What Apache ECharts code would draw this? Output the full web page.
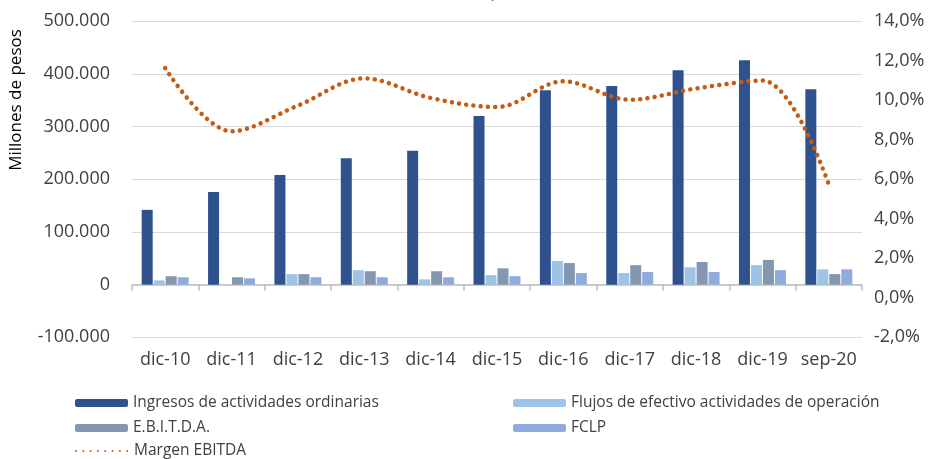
<!DOCTYPE html>
<html>
<head>
<meta charset="utf-8">
<script src="https://cdn.jsdelivr.net/npm/echarts@6/dist/echarts.min.js"></script>
<style>
html,body{margin:0;padding:0;background:#fff;}
#c{width:937px;height:459px;}
</style>
</head>
<body>
<div id="c"></div>
<script>
const categories = ['dic-10','dic-11','dic-12','dic-13','dic-14','dic-15','dic-16','dic-17','dic-18','dic-19','sep-20'];
const ingresos = [142000, 176000, 208000, 240000, 254000, 320000, 369000, 377000, 407000, 426000, 371000];
const flujos = [8000, 0, 20000, 27500, 10000, 18000, 45000, 22000, 33000, 37000, 29000];
const ebitda = [16000, 14000, 20000, 25500, 25500, 31000, 41000, 37000, 43000, 47000, 20000];
const fclp = [14000, 12000, 14000, 14000, 14000, 16000, 22000, 24000, 24000, 27500, 29000];
const margen = [11.63, 8.43, 9.73, 11.11, 10.12, 9.66, 10.96, 10.03, 10.6, 11.0, 5.73];

const FONT = 'Open Sans';
const fmtThousands = v => (v < 0 ? '-' : '') + String(Math.abs(v)).replace(/\B(?=(\d{3})+(?!\d))/g, '.');
const fmtPct = v => v.toFixed(1).replace('.', ',') + '%';

const chart = echarts.init(document.getElementById('c'), null, {renderer: 'canvas'});
const legendText = {fontFamily: FONT, fontSize: 15.5, color: '#404040'};
const legendBase = {itemWidth: 53, itemHeight: 8, textStyle: legendText, orient: 'horizontal', padding: 0};
chart.setOption({
  animation: false,
  backgroundColor: '#ffffff',
  grid: {left: 132, right: 75, top: 21.3, bottom: 121.7, containLabel: false},
  graphic: [
    {type: 'text', left: 372, top: -20, style: {text: '(Millones de pesos)', fontFamily: FONT, fontSize: 20, fill: '#4472C4'}},
    {type: 'text', x: 8, y: 100, rotation: Math.PI / 2, style: {text: 'Millones de pesos', fontFamily: FONT, fontSize: 17, fill: '#000000', align: 'center', verticalAlign: 'top'}}
  ],
  legend: [
    Object.assign({data: ['Ingresos de actividades ordinarias'], left: 75, top: 395}, legendBase),
    Object.assign({data: ['Flujos de efectivo actividades de operación'], left: 513, top: 395}, legendBase),
    Object.assign({data: ['E.B.I.T.D.A.'], left: 75, top: 420}, legendBase),
    Object.assign({data: ['FCLP'], left: 513, top: 420}, legendBase),
    Object.assign({data: ['Margen EBITDA'], left: 75, top: 443, itemStyle: {opacity: 0}}, legendBase)
  ],
  xAxis: [
    {
      type: 'category', data: categories, position: 'bottom',
      axisLine: {show: false}, axisTick: {show: false},
      axisLabel: {fontFamily: FONT, fontSize: 18, color: '#404040', margin: 14, interval: 0}
    },
    {
      type: 'category', data: categories, position: 'bottom',
      axisLine: {show: true, onZero: true, onZeroAxisIndex: 0, lineStyle: {color: '#BFBFBF', width: 1.5}},
      axisTick: {show: true, length: 6, lineStyle: {color: '#BFBFBF', width: 1.5}},
      axisLabel: {show: false}
    }
  ],
  yAxis: [
    {
      type: 'value', min: -100000, max: 500000, interval: 100000,
      axisLine: {show: false}, axisTick: {show: false},
      splitLine: {lineStyle: {color: '#D9D9D9', width: 1}},
      axisLabel: {fontFamily: FONT, fontSize: 18, color: '#404040', margin: 22, formatter: fmtThousands}
    },
    {
      type: 'value', min: -2, max: 14, interval: 2, position: 'right',
      axisLine: {show: false}, axisTick: {show: false}, splitLine: {show: false},
      axisLabel: {fontFamily: FONT, fontSize: 18, color: '#404040', margin: 12, formatter: fmtPct}
    }
  ],
  series: [
    {name: 'Ingresos de actividades ordinarias', type: 'bar', data: ingresos, barWidth: 11, barGap: '9%', itemStyle: {color: '#2F528F'}},
    {name: 'Flujos de efectivo actividades de operación', type: 'bar', data: flujos, barWidth: 11, barGap: '9%', itemStyle: {color: '#9DC3E6'}},
    {name: 'E.B.I.T.D.A.', type: 'bar', data: ebitda, barWidth: 11, barGap: '9%', itemStyle: {color: '#8497B0'}},
    {name: 'FCLP', type: 'bar', data: fclp, barWidth: 11, barGap: '9%', itemStyle: {color: '#8FAADC'}},
    {
      name: 'Margen EBITDA', type: 'line', yAxisIndex: 1, data: margen, smooth: 0.35,
      symbol: 'none', z: 5,
      lineStyle: {color: '#C55A11', width: 4.5, type: [0.01, 7.3], cap: 'round'},
      itemStyle: {color: '#C55A11'}
    }
  ]
});
</script>
</body>
</html>
